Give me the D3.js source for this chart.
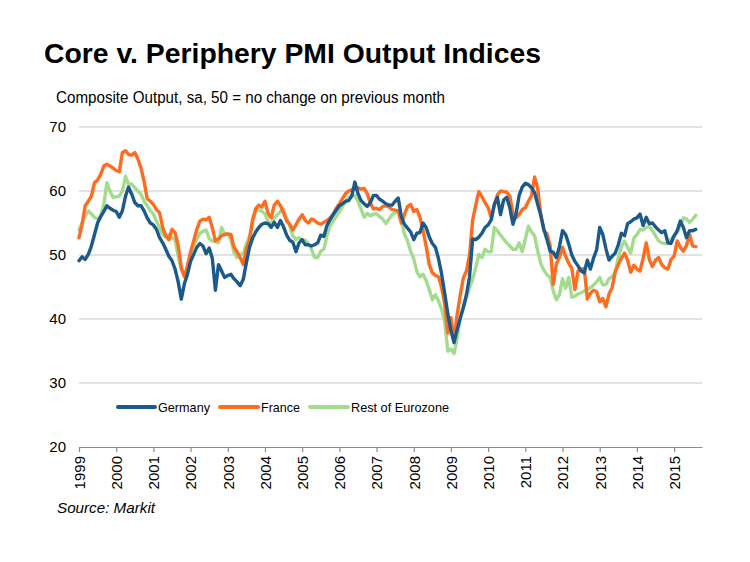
<!DOCTYPE html>
<html>
<head>
<meta charset="utf-8">
<script src="https://cdn.jsdelivr.net/npm/d3@7"></script>
<style>
  html, body { margin: 0; padding: 0; background: #fff; }
  svg { display: block; font-family: "Liberation Sans", Arial, sans-serif; }
</style>
</head>
<body>
<svg id="chart" width="750" height="562"></svg>
<script>
// ---- Data (monthly, Jan 1999 .. Aug 2015) ----
const startYear = 1999;
const yearLabels = ["1999","2000","2001","2002","2003","2004","2005","2006","2007","2008","2009","2010","2011","2012","2013","2014","2015"];
const yTicks = [20, 30, 40, 50, 60, 70];
const seriesNames = ["Germany", "France", "Rest of Eurozone"];

const germany = [
  49.1,49.7,49.3,50.1,51.4,53.2,55.0,56.0,56.8,57.7,57.3,57.0,
  56.8,55.9,56.9,59.2,60.6,59.5,58.2,57.7,57.7,56.9,55.8,55.0,
  54.7,54.0,52.7,51.9,50.9,49.8,49.1,47.8,45.8,43.1,45.5,47.0,
  49.0,50.1,51.2,51.8,51.4,50.2,51.1,49.5,44.5,48.5,47.5,46.5,
  46.8,47.0,46.3,45.8,45.2,46.2,48.8,51.2,52.6,53.6,54.3,54.8,
  55.0,54.9,54.3,55.1,54.3,55.4,54.4,53.1,52.3,52.0,50.5,51.9,
  52.4,51.6,51.6,51.4,51.6,51.9,53.1,52.9,54.6,55.5,56.3,57.0,
  57.7,58.0,58.4,58.5,59.2,61.4,59.6,58.5,58.0,57.6,58.2,59.3,
  59.3,58.7,58.4,58.0,57.8,57.8,58.4,58.9,56.0,54.8,54.2,53.6,
  52.4,53.4,53.5,55.0,54.3,52.8,51.8,51.2,49.4,47.0,44.0,40.8,
  38.2,36.3,38.3,40.1,41.8,43.8,46.6,52.5,52.4,52.8,53.4,54.3,
  54.7,55.5,57.9,59.0,56.3,58.6,59.0,57.4,54.8,56.4,59.3,60.6,
  61.2,61.0,60.5,59.7,57.9,56.2,54.0,52.4,50.6,50.4,49.6,51.3,
  53.8,53.2,51.7,50.0,49.0,48.3,47.5,47.2,49.2,47.8,49.5,50.8,
  54.3,53.2,51.0,49.2,49.8,50.3,51.6,53.4,53.0,54.9,55.2,55.6,
  55.8,56.4,54.6,55.9,54.9,55.0,54.4,53.9,53.5,53.8,51.9,51.8,
  53.0,53.8,55.3,54.3,52.7,53.8,53.8,54.0
];

const france = [
  52.7,54.8,57.7,58.4,59.2,61.3,61.7,62.6,63.9,64.2,63.9,63.6,
  63.2,63.0,66.0,66.3,65.7,65.6,66.0,65.0,63.6,61.5,58.8,58.4,
  57.9,57.1,56.6,54.3,53.0,52.4,54.0,53.5,51.5,48.0,46.6,48.3,
  50.5,52.2,54.0,55.3,55.6,55.5,55.9,54.3,52.2,52.5,53.0,53.2,
  53.3,53.2,51.2,50.5,49.6,48.5,51.0,52.3,55.5,57.2,57.8,57.5,
  58.4,56.5,55.8,57.8,58.4,57.7,56.6,55.3,54.8,53.9,54.7,55.6,
  56.3,55.4,55.0,55.6,55.4,55.0,54.8,55.1,55.4,55.8,56.4,57.3,
  58.0,58.8,59.6,60.0,60.2,60.4,60.5,60.3,60.4,59.6,58.1,57.2,
  57.3,57.1,57.6,57.7,57.5,57.1,57.0,56.9,55.0,56.3,57.6,57.9,
  56.8,57.1,55.9,53.8,51.4,48.5,47.2,46.8,46.6,44.9,42.3,37.8,
  40.2,36.6,40.7,43.7,46.4,47.5,50.0,55.4,57.8,59.9,59.1,58.2,
  57.4,55.8,57.8,59.4,60.0,59.9,59.8,59.2,56.5,55.8,56.3,57.1,
  57.4,58.4,59.3,62.2,60.4,56.2,53.8,53.3,51.5,45.4,48.6,49.6,
  51.2,49.8,48.7,47.9,44.6,47.5,47.8,47.9,43.1,44.0,44.5,44.3,
  42.7,43.2,41.9,43.9,44.9,47.4,48.5,49.5,50.3,49.2,47.3,48.4,
  47.8,47.5,49.5,51.9,49.3,48.2,49.2,49.6,48.5,48.0,47.8,49.3,
  49.8,52.2,51.2,50.6,51.5,53.2,51.4,51.3
];

const restOfEurozone = [
  53.9,55.0,56.1,56.9,56.4,55.9,55.6,56.1,57.9,61.3,60.0,59.0,
  59.1,59.2,60.0,62.3,61.0,61.1,60.5,60.0,59.5,58.4,57.7,56.9,
  56.4,55.3,54.2,53.2,52.8,53.2,52.7,52.4,49.8,47.8,46.7,48.0,
  50.2,51.5,52.5,53.4,53.7,53.9,52.6,52.2,52.1,51.9,54.3,53.2,
  53.3,52.4,50.4,49.6,50.1,50.2,51.7,53.0,55.0,56.9,57.1,56.8,
  56.4,55.3,54.8,55.8,56.3,56.8,57.1,55.8,54.5,53.0,52.4,52.7,
  52.2,52.3,51.8,50.9,49.6,49.6,50.6,50.9,53.0,54.5,55.3,56.0,
  56.7,57.6,58.3,59.0,59.4,59.3,58.4,57.2,55.9,56.5,56.1,56.4,
  56.4,56.0,55.6,54.9,55.6,56.3,56.6,56.9,55.4,53.3,52.2,50.6,
  49.4,47.4,46.6,47.0,46.0,44.6,43.0,43.8,42.8,41.5,39.5,35.0,
  35.3,34.6,37.0,40.2,41.8,43.3,44.9,46.2,48.0,50.1,49.6,50.9,
  50.5,50.5,54.3,53.8,53.1,52.5,51.9,51.4,50.9,50.9,51.9,50.5,
  52.5,54.5,53.6,53.0,50.6,48.6,47.6,46.9,46.5,44.4,43.0,43.8,
  46.3,44.8,46.5,43.4,43.6,43.9,44.1,44.4,44.6,44.9,45.3,45.8,
  46.5,45.3,45.4,46.3,46.6,47.3,49.6,51.3,52.2,51.2,50.3,52.6,
  53.2,54.0,53.9,54.3,54.5,53.8,53.0,52.2,51.9,51.8,51.8,52.5,
  53.0,53.5,54.6,55.8,55.6,55.1,55.6,56.2
];

const colors = ["#1B5A8A", "#FF6B1F", "#A3DB8F"];

// ---- Chart ----
const svg = d3.select("#chart");
svg.append("rect").attr("width", 750).attr("height", 562).attr("fill", "#fff");

const x = d3.scaleLinear().domain([0, 201]).range([79, 702]);
const y = d3.scaleLinear().domain([20, 70]).range([447, 127]);

// Title & subtitle
svg.append("text").attr("x", 44).attr("y", 63)
  .attr("font-size", 28).attr("font-weight", "bold").attr("fill", "#000")
  .attr("textLength", 497).attr("lengthAdjust", "spacingAndGlyphs")
  .text("Core v. Periphery PMI Output Indices");
svg.append("text").attr("x", 56).attr("y", 103)
  .attr("font-size", 16).attr("fill", "#000")
  .attr("textLength", 389).attr("lengthAdjust", "spacingAndGlyphs")
  .text("Composite Output, sa, 50 = no change on previous month");

// Gridlines
svg.append("g").selectAll("line")
  .data(yTicks.filter(d => d > 20))
  .join("line")
  .attr("x1", x(0)).attr("x2", x(201))
  .attr("y1", d => y(d)).attr("y2", d => y(d))
  .attr("stroke", "#d9d9d9").attr("stroke-width", 1.5);

// Y axis labels
svg.append("g").selectAll("text")
  .data(yTicks)
  .join("text")
  .attr("x", 66).attr("y", d => y(d)).attr("dy", "0.36em")
  .attr("text-anchor", "end").attr("font-size", 15).attr("fill", "#000")
  .text(d => d);

// X axis
const tickMonths = yearLabels.map((_, i) => i * 12);
const xAxis = d3.axisBottom(x)
  .tickValues(tickMonths)
  .tickSize(5)
  .tickSizeOuter(0)
  .tickFormat(d => yearLabels[d / 12]);
const gx = svg.append("g").attr("transform", `translate(0,${y(20)})`).call(xAxis);
gx.select(".domain").attr("stroke", "#8c8c8c").attr("stroke-width", 1.2);
gx.selectAll(".tick line").attr("stroke", "#8c8c8c").attr("stroke-width", 1.2);
gx.selectAll(".tick text")
  .attr("font-family", "Liberation Sans, Arial, sans-serif")
  .attr("font-size", 15).attr("fill", "#000")
  .attr("transform", "rotate(-90)")
  .attr("text-anchor", "end")
  .attr("x", -9).attr("y", 0).attr("dy", "0.36em");

// Lines
const seriesData = [germany, france, restOfEurozone];
const line = d3.line().x((d, i) => x(i)).y(d => y(d)).curve(d3.curveLinear);
const drawOrder = [2, 1, 0];
svg.append("g").selectAll("path")
  .data(drawOrder)
  .join("path")
  .attr("d", k => line(seriesData[k]))
  .attr("fill", "none")
  .attr("stroke", k => colors[k])
  .attr("stroke-width", 3.4)
  .attr("stroke-linejoin", "round")
  .attr("stroke-linecap", "round");

// Legend
const legendItems = [
  { name: seriesNames[0], x1: 118, x2: 155, tx: 158, tl: 52 },
  { name: seriesNames[1], x1: 220, x2: 258, tx: 261, tl: 39 },
  { name: seriesNames[2], x1: 310, x2: 348, tx: 351, tl: 98 }
];
const lg = svg.append("g");
legendItems.forEach((it, k) => {
  lg.append("line").attr("x1", it.x1).attr("x2", it.x2).attr("y1", 407).attr("y2", 407)
    .attr("stroke", colors[k]).attr("stroke-width", 4).attr("stroke-linecap", "round");
  lg.append("text").attr("x", it.tx).attr("y", 407).attr("dy", "0.36em")
    .attr("font-size", 13.5).attr("fill", "#000")
    .attr("textLength", it.tl).attr("lengthAdjust", "spacingAndGlyphs")
    .text(it.name);
});

// Source
svg.append("text").attr("x", 57).attr("y", 513)
  .attr("font-size", 15).attr("font-style", "italic").attr("fill", "#000")
  .attr("textLength", 98).attr("lengthAdjust", "spacingAndGlyphs")
  .text("Source: Markit");
</script>
</body>
</html>
